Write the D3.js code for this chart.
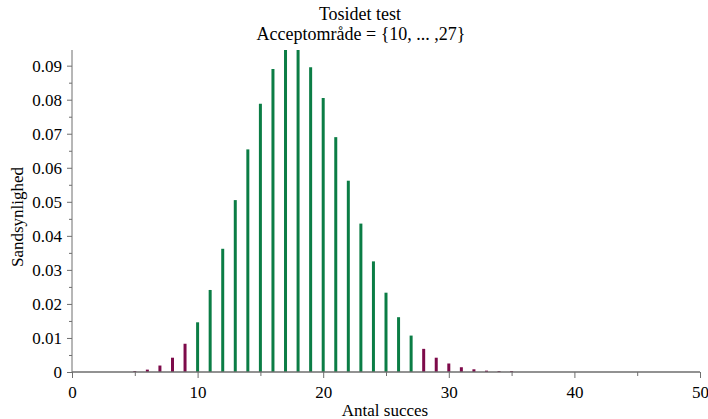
<!DOCTYPE html>
<html>
<head>
<meta charset="utf-8">
<script src="https://cdn.jsdelivr.net/npm/d3@7"></script>
<style>
  body { margin: 0; background: #fff; }
  text { font-family: "Liberation Serif", "Times New Roman", serif; fill: #000; }
</style>
</head>
<body>
<svg id="chart" width="708" height="419"></svg>
<script>
// number of successes and probabilities
const successes = [5, 6, 7, 8, 9, 10, 11, 12, 13, 14, 15, 16, 17, 18, 19, 20,
    21, 22, 23, 24, 25, 26, 27, 28, 29, 30, 31, 32, 33, 34, 35];
const probabilities = [0.0003, 0.0007, 0.0019, 0.0042, 0.0083, 0.0146, 0.0241, 0.0362,
    0.0505, 0.0654, 0.0788, 0.0890, 0.0946, 0.0946, 0.0895, 0.0805, 0.0690, 0.0562,
    0.0436, 0.0325, 0.0233, 0.0161, 0.0107, 0.0068, 0.0042, 0.0025, 0.0014, 0.0008,
    0.0004, 0.0002, 0.0001];
const acceptLow = 10;
const acceptHigh = 27;
const xTicks = [0, 10, 20, 30, 40, 50];
const yTicks = [0, 0.01, 0.02, 0.03, 0.04, 0.05, 0.06, 0.07, 0.08, 0.09];

const svg = d3.select("#chart");

const x = d3.scaleLinear().domain([0, 50]).range([72, 700]);
const y = d3.scaleLinear().domain([0, d3.max(probabilities)]).range([372, 50]);

const axisColor = "#6e6e6e";

// bars
svg.selectAll("line.bar")
    .data(successes)
    .enter().append("line")
    .attr("class", "bar")
    .attr("x1", d => x(d))
    .attr("x2", d => x(d))
    .attr("y1", y(0))
    .attr("y2", (d, i) => Math.min(y(probabilities[i]), y(0) - 1))
    .attr("stroke", d => (d >= acceptLow && d <= acceptHigh) ? "#0b7d45" : "#7d0a4a")
    .attr("stroke-width", 3);

// y axis
const yAxis = svg.append("g").attr("transform", `translate(${x(0)},0)`);
yAxis.call(d3.axisLeft(y).tickValues(yTicks).tickFormat(d => d === 0 ? "0" : d3.format(".2f")(d)).tickSize(5).tickPadding(5));
yAxis.append("g").call(d3.axisLeft(y).tickValues(d3.range(0.005, 0.095, 0.01)).tickSize(3).tickFormat(""));
yAxis.selectAll(".domain").remove();
yAxis.append("line").attr("x1", 0).attr("x2", 0).attr("y1", y(0)).attr("y2", 50).attr("stroke", axisColor);

// x axis
const xAxis = svg.append("g").attr("transform", `translate(0,${y(0)})`);
xAxis.call(d3.axisBottom(x).tickValues(xTicks).tickSize(6).tickPadding(8));
xAxis.append("g").call(d3.axisBottom(x).tickValues([5, 15, 25, 35, 45]).tickSize(4).tickFormat(""));
xAxis.selectAll(".domain").remove();
xAxis.append("line").attr("x1", x(0)).attr("x2", x(50)).attr("stroke", axisColor).attr("stroke-width", 1.3);

svg.selectAll(".tick line").attr("stroke", axisColor);
svg.selectAll(".tick text")
    .attr("font-family", null)
    .style("font-family", "'Liberation Serif', serif")
    .style("font-size", "17px")
    .attr("fill", "#000");

// titles
svg.append("text").attr("x", 360).attr("y", 20).attr("text-anchor", "middle")
    .style("font-size", "18px").text("Tosidet test");
svg.append("text").attr("x", 361).attr("y", 40).attr("text-anchor", "middle")
    .style("font-size", "18px").text("Acceptområde = {10, ... ,27}");

svg.append("text").attr("x", 385).attr("y", 416).attr("text-anchor", "middle")
    .style("font-size", "17px").text("Antal succes");
svg.append("text").attr("transform", "translate(23,217) rotate(-90)").attr("text-anchor", "middle")
    .style("font-size", "17px").text("Sandsynlighed");
</script>
</body>
</html>
